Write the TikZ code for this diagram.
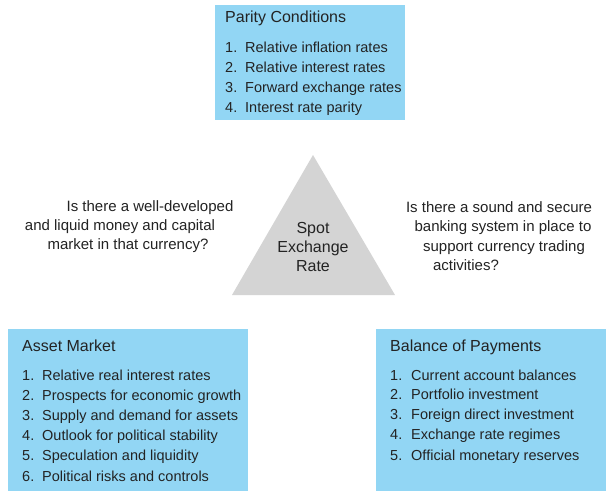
\documentclass[tikz,border=0pt]{standalone}
\usepackage{fontspec}
\setmainfont{Liberation Sans}
\definecolor{boxblue}{RGB}{146,214,244}
\definecolor{trigrey}{RGB}{212,212,212}
\definecolor{inkgrey}{RGB}{35,35,35}
\tikzset{
  boxtitle/.style={anchor=base west, inner sep=0pt, text=inkgrey, font=\fontsize{16}{19}\selectfont},
  listnum/.style={anchor=base west, inner sep=0pt, text=inkgrey, font=\fontsize{14.5}{20}\selectfont},
  listtext/.style={anchor=base west, inner sep=0pt, text=inkgrey, font=\fontsize{14.5}{20}\selectfont},
  askline/.style={anchor=base, inner sep=0pt, text=inkgrey, font=\fontsize{15}{19}\selectfont},
  spotline/.style={anchor=base, inner sep=0pt, text=inkgrey, font=\fontsize{16}{19}\selectfont}
}

\begin{document}
\begin{tikzpicture}[x=1pt, y=-1pt]
		%%%%% FRAME %%%%%
		\useasboundingbox[fill=white] (0, 0) rectangle (606, 491);
		
		%%%%% BOXES %%%%%
		\fill[boxblue] (215, 5) rectangle (405, 120);
		\fill[boxblue] (8, 329) rectangle (248, 491);
		\fill[boxblue] (376, 329) rectangle (606, 491);
		
		%%%%% TRIANGLE %%%%%
		\fill[trigrey] (232, 295) -- (313, 155) -- (395, 295) -- cycle;
		\node[spotline] (spot1) at (313, 233) {Spot};
		\node[spotline] (spot2) at (313, 252) {Exchange};
		\node[spotline] (spot3) at (313, 271) {Rate};
		
		%%%%% PARITY CONDITIONS %%%%%
		\node[boxtitle] (partitle) at (225, 22) {Parity Conditions};
		\node[listnum] (parnum1) at (225, 52) {1.};
		\node[listtext] (par1) at (245, 52) {Relative inflation rates};
		\node[listnum] (parnum2) at (225, 72) {2.};
		\node[listtext] (par2) at (245, 72) {Relative interest rates};
		\node[listnum] (parnum3) at (225, 92) {3.};
		\node[listtext] (par3) at (245, 92) {Forward exchange rates};
		\node[listnum] (parnum4) at (225, 112) {4.};
		\node[listtext] (par4) at (245, 112) {Interest rate parity};
		
		%%%%% QUESTIONS %%%%%
		\node[askline] (askl1) at (150, 211) {Is there a well-developed};
		\node[askline] (askl2) at (120, 230) {and liquid money and capital};
		\node[askline] (askl3) at (128, 249) {market in that currency?};
		
		\node[askline] (askr1) at (499, 212) {Is there a sound and secure};
		\node[askline] (askr2) at (503, 231) {banking system in place to};
		\node[askline] (askr3) at (504, 251) {support currency trading};
		\node[askline] (askr4) at (466, 270) {activities?};
		
		%%%%% ASSET MARKET %%%%%
		\node[boxtitle] (asstitle) at (22, 351) {Asset Market};
		\node[listnum] (assnum1) at (22, 380) {1.};
		\node[listtext] (ass1) at (42, 380) {Relative real interest rates};
		\node[listnum] (assnum2) at (22, 400) {2.};
		\node[listtext] (ass2) at (42, 400) {Prospects for economic growth};
		\node[listnum] (assnum3) at (22, 420) {3.};
		\node[listtext] (ass3) at (42, 420) {Supply and demand for assets};
		\node[listnum] (assnum4) at (22, 440) {4.};
		\node[listtext] (ass4) at (42, 440) {Outlook for political stability};
		\node[listnum] (assnum5) at (22, 460) {5.};
		\node[listtext] (ass5) at (42, 460) {Speculation and liquidity};
		\node[listnum] (assnum6) at (22, 481) {6.};
		\node[listtext] (ass6) at (42, 481) {Political risks and controls};
		
		%%%%% BALANCE OF PAYMENTS %%%%%
		\node[boxtitle] (boptitle) at (390, 351) {Balance of Payments};
		\node[listnum] (bopnum1) at (390, 380) {1.};
		\node[listtext] (bop1) at (411, 380) {Current account balances};
		\node[listnum] (bopnum2) at (390, 399) {2.};
		\node[listtext] (bop2) at (411, 399) {Portfolio investment};
		\node[listnum] (bopnum3) at (390, 419) {3.};
		\node[listtext] (bop3) at (411, 419) {Foreign direct investment};
		\node[listnum] (bopnum4) at (390, 439) {4.};
		\node[listtext] (bop4) at (411, 439) {Exchange rate regimes};
		\node[listnum] (bopnum5) at (390, 460) {5.};
		\node[listtext] (bop5) at (411, 460) {Official monetary reserves};
		
		%%%%% END %%%%%
\end{tikzpicture}
\end{document}
